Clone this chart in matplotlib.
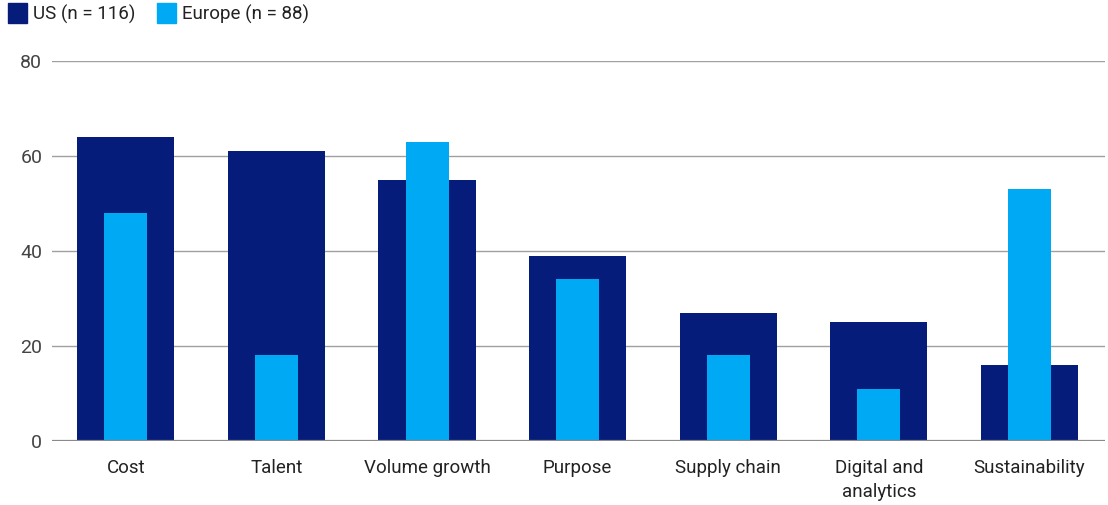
import matplotlib

matplotlib.use('Agg')
import matplotlib.pyplot as plt
from matplotlib.patches import Rectangle
import numpy as np

categories = ["Cost", "Talent", "Volume growth", "Purpose", "Supply chain",
              "Digital and\nanalytics", "Sustainability"]
us_values = [64, 61, 55, 39, 27, 25, 16]
europe_values = [48, 18, 63, 34, 18, 11, 53]
y_ticks = [0, 20, 40, 60, 80]
legend_labels = ["US (n = 116)", "Europe (n = 88)"]

us_color = "#051c7a"
eu_color = "#00a9f4"

plt.rcParams['font.family'] = ['Roboto', 'DejaVu Sans']

fig = plt.figure(figsize=(11.08, 5.05), dpi=100)
ax = fig.add_axes([0.047, 0.127, 0.950, 0.752])

x = np.arange(len(categories))
ax.bar(x, us_values, width=0.645, color=us_color, zorder=2)
ax.bar(x, europe_values, width=0.286, color=eu_color, zorder=3)

ax.set_xlim(-0.49, 6.5)
ax.set_ylim(0, 80)
ax.set_yticks(y_ticks)
ax.set_yticklabels([str(v) for v in y_ticks])
ax.set_xticks(x)
ax.set_xticklabels(categories, linespacing=1.45)
ax.grid(axis='y', color='#a0a0a0', linewidth=1, zorder=1)
ax.axhline(0, color='#8a8a8a', linewidth=1.6, zorder=4)

for s in ax.spines.values():
    s.set_visible(False)
ax.tick_params(axis='y', length=0, pad=7, labelsize=14, labelcolor='#444444')
ax.tick_params(axis='x', length=0, pad=13, labelsize=13.5, labelcolor='#222222')

# legend at top left
fig.patches.append(Rectangle((8 / 1108, 1 - 23 / 505), 19 / 1108, 20 / 505,
                             transform=fig.transFigure, color=us_color))
fig.text(33 / 1108, 1 - 14 / 505, legend_labels[0], fontsize=13.5,
         color='#222222', va='center')
fig.patches.append(Rectangle((157 / 1108, 1 - 23 / 505), 19 / 1108, 20 / 505,
                             transform=fig.transFigure, color=eu_color))
fig.text(182 / 1108, 1 - 14 / 505, legend_labels[1], fontsize=13.5,
         color='#222222', va='center')

fig.savefig("out.png", dpi=100)
